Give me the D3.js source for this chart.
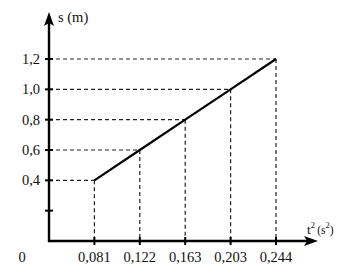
<!DOCTYPE html>
<html>
<head>
<meta charset="utf-8">
<script src="https://cdn.jsdelivr.net/npm/d3@7"></script>
<style>
  body { margin: 0; background: #fff; }
  text { font-family: "Liberation Serif", "Times New Roman", serif; fill: #111; }
</style>
</head>
<body>
<div id="chart"></div>
<script>
// t^2 values (s^2) and distance s (m)
const tSquared = ["0,081", "0,122", "0,163", "0,203", "0,244"];
const distance = [0.4, 0.6, 0.8, 1.0, 1.2];
const yTicks = [0.2, 0.4, 0.6, 0.8, 1.0, 1.2];
const yTickLabels = ["", "0,4", "0,6", "0,8", "1,0", "1,2"];

const width = 347, height = 277;
const x0 = 49, y0 = 241;

const svg = d3.select("#chart").append("svg")
  .attr("width", width).attr("height", height);

// x axis: categories evenly spaced, index 0 is the origin
const x = d3.scaleLinear().domain([0, 5]).range([x0, 276]);
const y = d3.scaleLinear().domain([0, 1.2]).range([y0, 59]);

const pts = tSquared.map((t, i) => ({ label: t, xi: i + 1, s: distance[i] }));

// dashed guide lines
const dash = svg.append("g").attr("stroke", "#222").attr("stroke-width", 1.2)
  .attr("stroke-dasharray", "4,3");
dash.selectAll("line.h").data(pts).join("line")
  .attr("x1", x0).attr("x2", d => x(d.xi))
  .attr("y1", d => y(d.s)).attr("y2", d => y(d.s));
dash.selectAll("line.v").data(pts).join("line")
  .attr("x1", d => x(d.xi)).attr("x2", d => x(d.xi))
  .attr("y1", d => y(d.s)).attr("y2", y0);

// data line
svg.append("path").datum(pts)
  .attr("fill", "none").attr("stroke", "#000").attr("stroke-width", 2.2)
  .attr("d", d3.line().x(d => x(d.xi)).y(d => y(d.s)));

// axes
svg.append("line").attr("x1", x0).attr("x2", 310).attr("y1", y0).attr("y2", y0)
  .attr("stroke", "#000").attr("stroke-width", 2.4);
svg.append("line").attr("x1", x0).attr("x2", x0).attr("y1", y0 + 1.2).attr("y2", 20)
  .attr("stroke", "#000").attr("stroke-width", 2.4);
// arrowheads
svg.append("path").attr("d", `M318,${y0} L304,${y0 - 5} L307,${y0} L304,${y0 + 5} Z`).attr("fill", "#000");
svg.append("path").attr("d", `M${x0},12 L${x0 - 5},26 L${x0},23 L${x0 + 5},26 Z`).attr("fill", "#000");

// y ticks
svg.selectAll("line.yt").data(yTicks).join("line")
  .attr("x1", x0 - 4).attr("x2", x0 + 4)
  .attr("y1", d => y(d)).attr("y2", d => y(d))
  .attr("stroke", "#000").attr("stroke-width", 2);
svg.selectAll("text.yl").data(yTicks).join("text")
  .attr("x", 40).attr("y", d => y(d) + 5)
  .attr("text-anchor", "end").attr("font-size", 14.5)
  .text((d, i) => yTickLabels[i]);

// x ticks
svg.selectAll("line.xt").data(pts).join("line")
  .attr("x1", d => x(d.xi)).attr("x2", d => x(d.xi))
  .attr("y1", y0 - 4).attr("y2", y0 + 4)
  .attr("stroke", "#000").attr("stroke-width", 2);
svg.selectAll("text.xl").data(pts).join("text")
  .attr("x", d => x(d.xi)).attr("y", 262)
  .attr("text-anchor", "middle").attr("font-size", 14.5)
  .text(d => d.label);

svg.append("text").attr("x", 22).attr("y", 262).attr("text-anchor", "middle")
  .attr("font-size", 14.5).text("0");

// axis titles
svg.append("text").attr("x", 58).attr("y", 22).attr("font-size", 14.5).text("s (m)");
const tl = svg.append("text").attr("x", 307).attr("y", 234).attr("font-size", 13.5);
tl.append("tspan").text("t");
tl.append("tspan").attr("font-size", 8.5).attr("dy", -6).text("2 ");
tl.append("tspan").attr("font-size", 11.5).attr("dy", 6).text("(s");
tl.append("tspan").attr("font-size", 8.5).attr("dy", -6).text("2");
tl.append("tspan").attr("font-size", 11.5).attr("dy", 6).text(")");
</script>
</body>
</html>
